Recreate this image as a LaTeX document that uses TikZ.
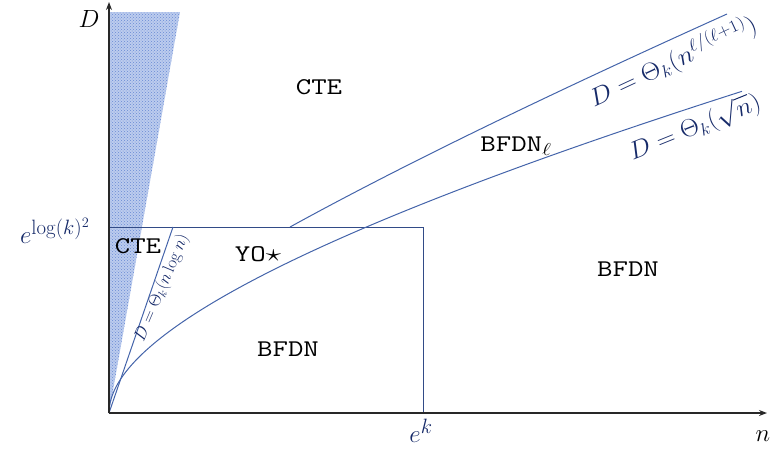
\documentclass[tikz,border=0pt]{standalone}
\usepackage{amsmath,amssymb}
\usetikzlibrary{arrows.meta,patterns}
\definecolor{navy}{RGB}{22,42,105}
\definecolor{curvec}{RGB}{68,100,170}
\definecolor{boxc}{RGB}{50,75,135}
\definecolor{hatchbg}{RGB}{188,204,238}
\definecolor{hatchfg}{RGB}{105,138,212}
\definecolor{axisc}{RGB}{40,40,40}
\begin{document}
\begin{tikzpicture}[x=1pt,y=-1pt,
  lbl/.style={font=\fontsize{24}{28}\selectfont\ttfamily, xscale=1.25, inner sep=0pt},
  mth/.style={text=navy, inner sep=0pt},
  curveline/.style={draw=curvec, line width=1pt},
  axisline/.style={draw=axisc, line width=1.4pt, -{Stealth[length=8pt,width=6pt]}}]
\useasboundingbox (0,0) rectangle (772,451);
% key points
\coordinate (O) at (109,413);
\coordinate (Ytop) at (109,2);
\coordinate (Xend) at (767,413);
\coordinate (Htop) at (109,12);
\coordinate (Hright) at (180,12);
\coordinate (BL) at (109,227);
\coordinate (BR) at (423,227);
\coordinate (BB) at (423,413);
\coordinate (N1) at (173,227);
\coordinate (U0) at (290,227);
\coordinate (U1) at (727,14);
% shaded wedge
\fill[hatchbg] (O) -- (Htop) -- (Hright) -- cycle;
\fill[pattern=crosshatch dots, pattern color=hatchfg] (O) -- (Htop) -- (Hright) -- cycle;
% box
\draw[boxc, line width=1pt] (BL) -- (BR) -- (BB);
% curves
\draw[curveline] (O) -- (N1);
\draw[curveline] plot[domain=0:25.16, samples=120, smooth] ({109+\x*\x},{413-9.49*\x-0.131*\x*\x});
\draw[curveline] (U0) .. controls (399,167) and (545,96) .. (U1);
% axes
\draw[axisline] (O) -- (Ytop);
\draw[axisline] (O) -- (Xend);
% axis labels
\node[inner sep=0pt, font=\fontsize{26}{30}\selectfont] (Dlab) at (89,19) {$D$};
\node[inner sep=0pt, font=\fontsize{26}{30}\selectfont] (nlab) at (763,436) {$n$};
\node[mth, font=\fontsize{29}{32}\selectfont] (ek) at (421,431) {$e^{k}$};
\node[mth, font=\fontsize{30}{33}\selectfont] (elog) at (55,231) {$e^{\log(k)^2}$};
% region labels
\node[lbl] (cte1) at (319,87) {CTE};
\node[lbl] (cte2) at (138,246) {CTE};
\node[lbl] (yo) at (258,254) {YO$\star$};
\node[lbl] (bfdn1) at (288,349) {BFDN};
\node[lbl] (bfdn2) at (628,269) {BFDN};
\node[lbl] (bfdnl) at (516,146) {BFDN$_\ell$};
% curve labels
\node[mth, rotate=25, xscale=1.08, font=\fontsize{27}{30}\selectfont] (lab1) at (673,62) {$D=\Theta_k(n^{\ell/(\ell+1)})$};
\node[mth, rotate=22, xscale=1.05, font=\fontsize{27}{30}\selectfont] (lab2) at (695,128) {$D=\Theta_k(\sqrt{n})$};
\node[mth, rotate=67, font=\fontsize{18}{21}\selectfont] (lab3) at (162,288) {$D=\Theta_k(n\log n)$};
\end{tikzpicture}
\end{document}
